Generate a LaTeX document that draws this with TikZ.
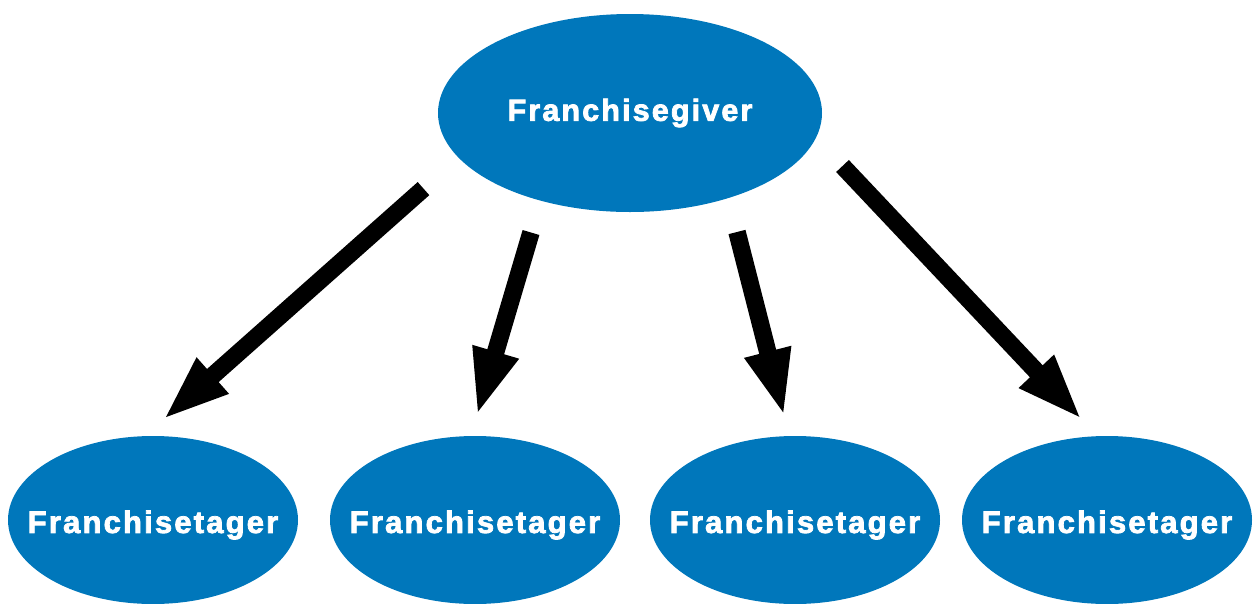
\documentclass[tikz,border=0pt]{standalone}
\usepackage{fontspec}
\setmainfont{Liberation Sans}
\newfontfamily\lblfont[LetterSpace=7,FakeBold=2.5]{Liberation Sans}
\usetikzlibrary{shapes.geometric,arrows.meta}
\definecolor{franblue}{RGB}{0,119,187}
\tikzset{
  blob/.style={ellipse, fill=franblue, draw=none, inner sep=0pt},
  topblob/.style={blob, minimum width=384pt, minimum height=198pt},
  botblob/.style={blob, minimum width=290pt, minimum height=168pt},
  lbl/.style={text=white, font=\lblfont\bfseries\fontsize{31}{34}\selectfont},
  toplbl/.style={lbl, font=\lblfont\bfseries\fontsize{30.5}{34}\selectfont},
  botlbl/.style={lbl, yshift=-5pt},
  bigarrow/.style={line width=17.5pt, -{Triangle[length=67pt,width=43pt]}, black}
}
\begin{document}
\begin{tikzpicture}[x=1pt,y=-1pt]
\useasboundingbox (0,0) rectangle (1253,603);
\node[topblob, label={[toplbl]center:Franchisegiver}] (giver) at (630,113) {};
\node[botblob, label={[botlbl]center:Franchisetager}] (t1) at (153,520) {};
\node[botblob, label={[botlbl]center:Franchisetager}] (t2) at (475,520) {};
\node[botblob, label={[botlbl]center:Franchisetager}] (t3) at (795,520) {};
\node[botblob, label={[botlbl]center:Franchisetager}] (t4) at (1107,520) {};
\coordinate (s1) at (423.5,188.6);
\coordinate (e1) at (162.7,420);
\coordinate (s2) at (531,232.5);
\coordinate (e2) at (476.7,416);
\coordinate (s3) at (737,232);
\coordinate (e3) at (784.3,416.7);
\coordinate (s4) at (842.5,166);
\coordinate (e4) at (1082.3,420);
\draw[bigarrow] (s1) -- (e1);
\draw[bigarrow] (s2) -- (e2);
\draw[bigarrow] (s3) -- (e3);
\draw[bigarrow] (s4) -- (e4);
\end{tikzpicture}
\end{document}
